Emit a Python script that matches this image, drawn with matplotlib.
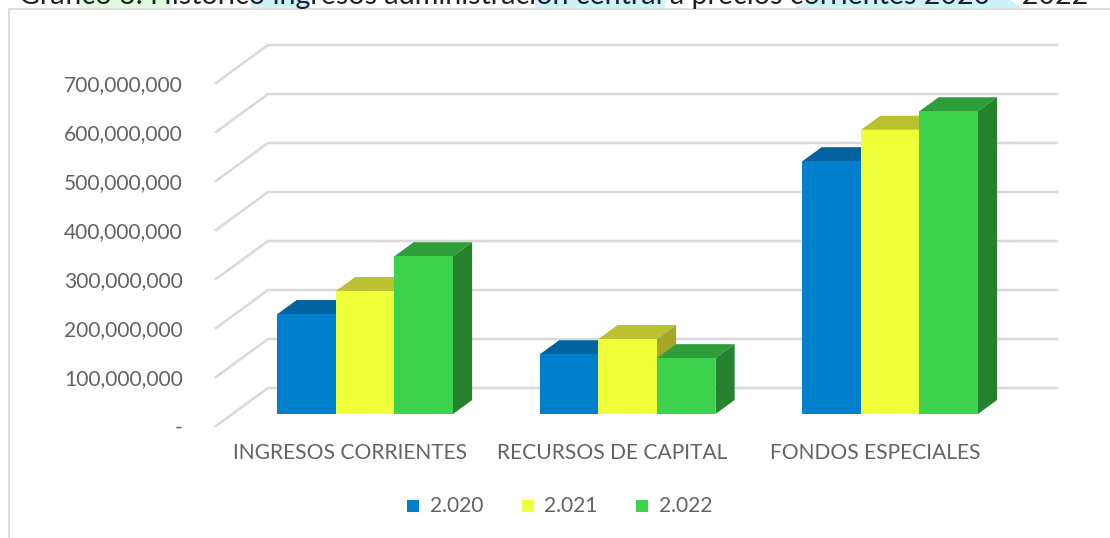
import numpy as np
import matplotlib
matplotlib.use("Agg")
import matplotlib.pyplot as plt
from matplotlib.patches import Polygon, Rectangle

categories = ["INGRESOS CORRIENTES", "RECURSOS DE CAPITAL", "FONDOS ESPECIALES"]
series_names = ["2.020", "2.021", "2.022"]
values_2020 = [204e6, 122e6, 516e6]
values_2021 = [251e6, 153e6, 580e6]
values_2022 = [322e6, 114e6, 618e6]
value_ticks = [0, 100e6, 200e6, 300e6, 400e6, 500e6, 600e6, 700e6]
title = "Gráfico 3. Histórico ingresos administración central a precios corrientes 2020 – 2022"

colors = ["#0080CC", "#EFFF3A", "#3CD24E"]
top_colors = ["#00639F", "#BBC22F", "#2E9E3B"]
side_colors = ["#005A90", "#A3A828", "#26822F"]
GRID = "#D9D9D9"
TXT = "#636363"
FONT = ["Lato", "DejaVu Sans"]
LABEL_SIZE = 15.1

W, H = 1110, 538
fig = plt.figure(figsize=(W / 100, H / 100), dpi=100)
bg = fig.add_axes([0, 0, 1, 1])
bg.set_xlim(0, W); bg.set_ylim(H, 0); bg.axis("off")
bg.add_patch(Rectangle((78, 0), 94, 8, fc="#DFFBDF", ec="none"))
bg.add_patch(Rectangle((251, 0), 59, 8, fc="#CDF2FC", ec="none"))
bg.add_patch(Rectangle((535, 0), 130, 8, fc="#CDF2FC", ec="none"))
bg.add_patch(Polygon([(795, 8), (810, 0), (1010, 0), (1022, 8)], fc="#CDF2FC", ec="none"))
bg.text(554, 4.3, title, ha="center", va="baseline", fontsize=20.6, family=FONT, color="#222222")
bg.add_patch(Rectangle((9, 8.5), W, H, fc="white", ec=GRID, lw=1.2))

# front plane of the 3D box
L, R, B, T = 216, 1005, 426, 83
DX, DY = 52, 38
ax = fig.add_axes([L / W, 1 - B / H, (R - L) / W, (B - T) / H])
ax.patch.set_alpha(0)
ax.set_ylim(0, 700e6)
x_center0, x_step = 350, 262.5
ax.set_xlim((L - x_center0) / x_step, (R - x_center0) / x_step)
for s in ax.spines.values():
    s.set_visible(False)
ax.set_xticks(range(3), categories)
ax.set_yticks(value_ticks, ["-" if v == 0 else f"{int(v):,}" for v in value_ticks])
ax.tick_params(length=0, colors=TXT, labelsize=LABEL_SIZE)
ax.tick_params(axis="y", pad=24)
ax.tick_params(axis="x", pad=12)
for t in ax.get_xticklabels() + ax.get_yticklabels():
    t.set_fontfamily(FONT)

px_x = 1 / x_step
px_y = 700e6 / (B - T)
def P(x, v, d):
    return (x + d * DX * px_x, v + d * DY * px_y)

xmin, xmax = ax.get_xlim()
for v in value_ticks:
    ax.plot(*zip(P(xmin, v, 0), P(xmin, v, 1), P(xmax, v, 1)), color=GRID, lw=1.8, clip_on=False, zorder=1, solid_joinstyle="miter")

d0, d1 = 0.316, 0.684
bw = 58.5 * px_x
shift = -1.2 * px_x
series = [values_2020, values_2021, values_2022]
for i in range(3):
    for j in range(3):
        x0 = i + (j - 1.5) * bw + shift
        x1 = x0 + bw
        v = series[j][i]
        ax.add_patch(Polygon([P(x0, v, d0), P(x1, v, d0), P(x1, v, d1), P(x0, v, d1)], fc=top_colors[j], ec="none", zorder=2 + i, clip_on=False))
        if j == 2 or series[j + 1][i] < v:
            ax.add_patch(Polygon([P(x1, 0, d0), P(x1, 0, d1), P(x1, v, d1), P(x1, v, d0)], fc=side_colors[j], ec="none", zorder=2 + i, clip_on=False))
    for j in [0, 1, 2]:
        x0 = i + (j - 1.5) * bw + shift
        v = series[j][i]
        ax.add_patch(Polygon([P(x0, 0, d0), P(x0 + bw, 0, d0), P(x0 + bw, v, d0), P(x0, v, d0)], fc=colors[j], ec="none", zorder=3 + i, clip_on=False))

# legend
for xm, xt, c, n in zip([413, 528, 642], [430, 544, 659], colors, series_names):
    bg.add_patch(Rectangle((xm - 6, 500), 12, 12, fc=c, ec="none"))
    bg.text(xt, 506.5, n, va="center", ha="left", fontsize=LABEL_SIZE, color=TXT, family=FONT)

fig.savefig("out.png", dpi=100)
